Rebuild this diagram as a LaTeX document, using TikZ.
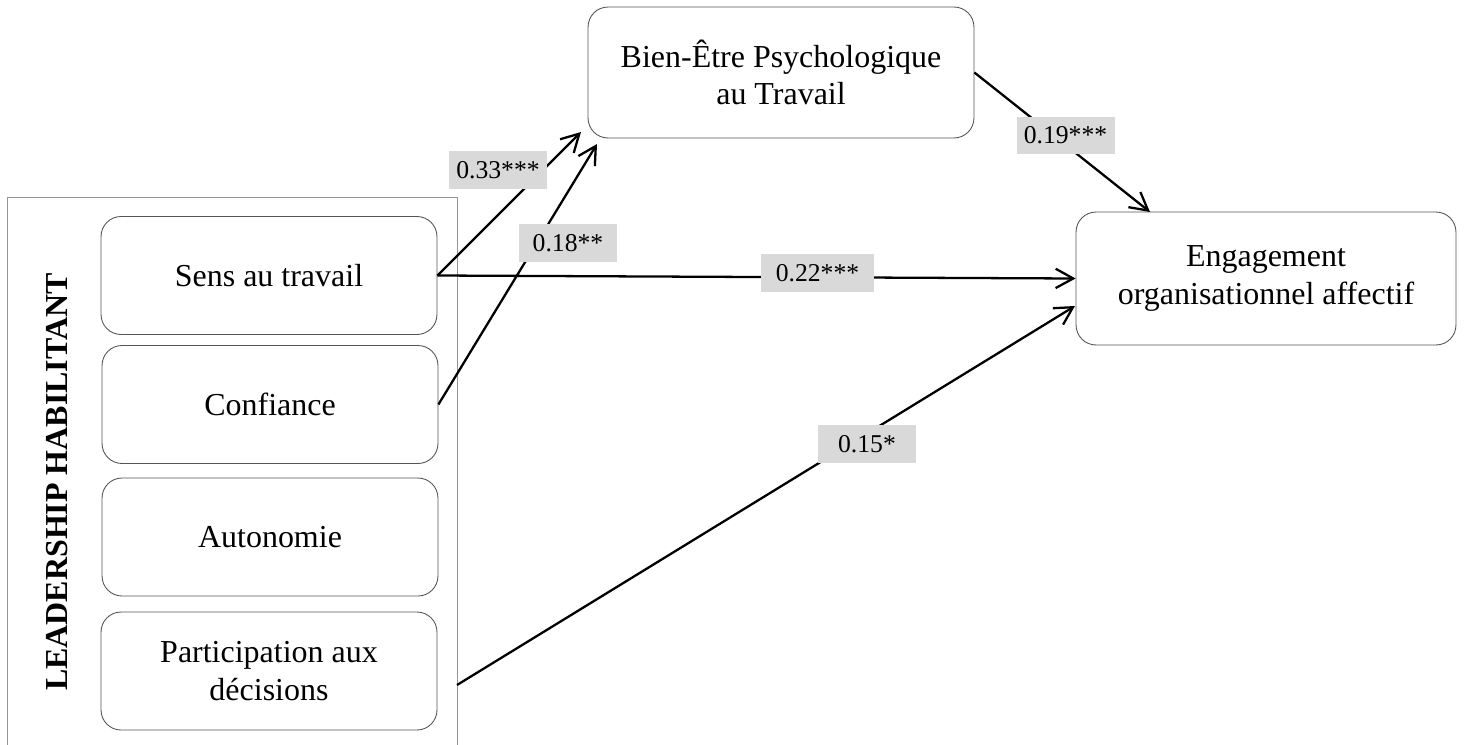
\documentclass[tikz,border=0pt]{standalone}
\usepackage{fontspec}
\setmainfont{Liberation Serif}
\usepackage{tikz}
\usetikzlibrary{arrows.meta,positioning,calc}
\definecolor{boxgray}{RGB}{85,85,85}
\definecolor{framegray}{RGB}{150,150,150}
\definecolor{coefgray}{RGB}{217,217,217}

\begin{document}
\begin{tikzpicture}[x=0.02cm, y=-0.02cm,
    factor/.style={rectangle, draw=boxgray, line width=0.5pt, rounded corners=0.4cm, minimum width=6.72cm, minimum height=2.36cm, align=center, font=\fontsize{18.2}{21.5}\selectfont},
    coef/.style={rectangle, fill=coefgray, minimum width=1.96cm, minimum height=0.76cm, inner sep=0pt, font=\fontsize{14.6}{17}\selectfont},
    effect/.style={-{Straight Barb[length=10pt, width=11pt]}, line width=1.3pt}]

    \useasboundingbox (0,0) rectangle (1464,744);

    % leadership dimensions
    \node[draw=framegray, line width=0.5pt, minimum width=9cm, minimum height=11.3cm, inner sep=0pt] (leader) at (232,480) {};
    \node[rotate=90, font=\fontsize{18.2}{21.5}\selectfont\bfseries] (title) at (57,482) {LEADERSHIP HABILITANT};
    \node[factor] (sens) at (269,275.5) {Sens au travail};
    \node[factor] (conf) at (270,404.5) {Confiance};
    \node[factor] (auto) at (270,537) {Autonomie};
    \node[factor] (part) at (269,671) {Participation aux\\décisions};

    % outcomes
    \node[factor, minimum width=7.72cm, minimum height=2.62cm] (bien) at (781,72.5) {Bien-Être Psychologique\\au Travail};
    \node[factor, minimum width=7.6cm, minimum height=2.66cm] (engage) at (1266,278.5) {Engagement\\organisationnel affectif};

    \coordinate (t1) at (581,132);
    \coordinate (t2) at (597,144);
    \coordinate (pstart) at (457,685);
    \coordinate (t4) at (1075,306);
    \coordinate (t5) at (1150,212);

    \draw[effect] (sens.east) -- (t1);
    \draw[effect] (conf.east) -- (t2);
    \draw[effect] (sens.east) -- (engage.west);
    \draw[effect] (pstart) -- (t4);
    \draw[effect] (bien.east) -- (t5);

    % coefficients
    \node[coef] (c1) at (498,170) {0.33***};
    \node[coef] (c2) at (568,243) {0.18**};
    \node[coef, minimum width=2.26cm] (c3) at (817.5,273) {0.22***};
    \node[coef] (c4) at (867,444) {0.15*};
    \node[coef] (c5) at (1065.5,135.5) {0.19***};
\end{tikzpicture}
\end{document}
